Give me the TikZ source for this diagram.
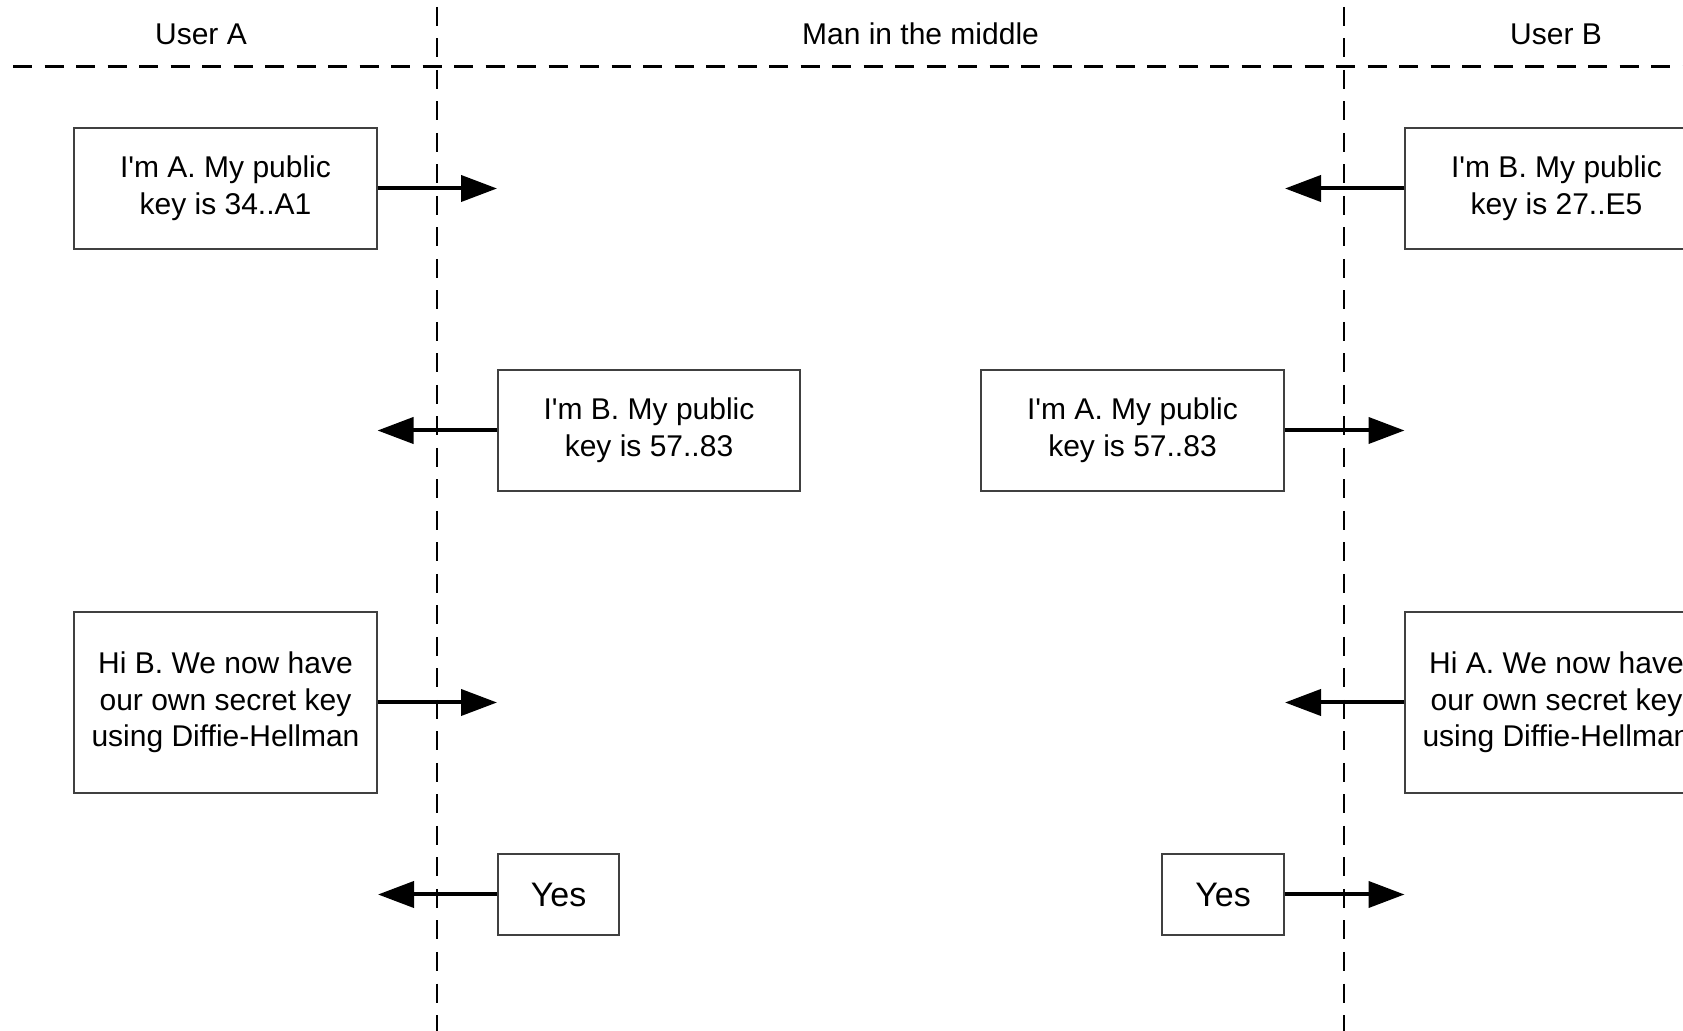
\documentclass[tikz,border=0pt]{standalone}
\usepackage{fontspec}
\setmainfont{Liberation Sans}[Ligatures=TeXOff]
\usetikzlibrary{arrows.meta}
\tikzset{
  msgbox/.style={draw=black!75, line width=0.75pt, fill=white, inner sep=0pt, align=center,
    font=\fontsize{15}{18.35}\selectfont},
  yesbox/.style={msgbox, font=\fontsize{17}{19}\selectfont},
  hdr/.style={anchor=base, inner sep=0pt, font=\fontsize{15}{18}\selectfont},
  lane/.style={line width=1.2pt, dash pattern=on 9.5pt off 6.25pt},
  msgarrow/.style={line width=2pt, -{Triangle[length=18pt,width=13pt]}}
}
\begin{document}
\begin{tikzpicture}[x=0.5pt, y=-0.5pt]
\useasboundingbox (0,0) rectangle (1683,1031);
\clip (0,0) rectangle (1683,1031);

% lanes
\coordinate (h0) at (13,66.5);
\coordinate (h1) at (1690,66.5);
\coordinate (v1t) at (437,7);
\coordinate (v1b) at (437,1040);
\coordinate (v2t) at (1344,7);
\coordinate (v2b) at (1344,1040);
\draw[lane] (h0) -- (h1);
\draw[lane] (v1t) -- (v1b);
\draw[lane] (v2t) -- (v2b);

% headers
\node[hdr] (hA) at (201,44.5) {User A};
\node[hdr] (hM) at (920.5,44.5) {Man in the middle};
\node[hdr] (hB) at (1556,44.5) {User B};

% boxes
\node[msgbox, minimum width=303pt*0.5, minimum height=121pt*0.5] (A1) at (225.5,188.5) {I'm A. My public\\key is 34..A1};
\node[msgbox, minimum width=303pt*0.5, minimum height=121pt*0.5] (B1) at (1556.5,188.5) {I'm B. My public\\key is 27..E5};
\node[msgbox, minimum width=302pt*0.5, minimum height=121pt*0.5] (M1) at (649,430.5) {I'm B. My public\\key is 57..83};
\node[msgbox, minimum width=303pt*0.5, minimum height=121pt*0.5] (M2) at (1132.5,430.5) {I'm A. My public\\key is 57..83};
\node[msgbox, minimum width=303pt*0.5, minimum height=181pt*0.5] (A2) at (225.5,702.5) {Hi B. We now have\\our own secret key\\using Diffie-Hellman};
\node[msgbox, minimum width=303pt*0.5, minimum height=181pt*0.5] (B2) at (1556.5,702.5) {Hi A. We now have\\our own secret key\\using Diffie-Hellman};
\node[yesbox, minimum width=121pt*0.5, minimum height=81pt*0.5] (Y1) at (558.5,894.5) {Yes};
\node[yesbox, minimum width=122pt*0.5, minimum height=81pt*0.5] (Y2) at (1223,894.5) {Yes};

% arrow tips
\coordinate (tA1) at (497,188.5);
\coordinate (tB1) at (1285,188.5);
\coordinate (tM1) at (377.5,430.5);
\coordinate (tM2) at (1404.5,430.5);
\coordinate (tA2) at (497,702.5);
\coordinate (tB2) at (1285,702.5);
\coordinate (tY1) at (378,894.5);
\coordinate (tY2) at (1404.5,894.5);

\draw[msgarrow] (A1.east) -- (tA1);
\draw[msgarrow] (B1.west) -- (tB1);
\draw[msgarrow] (M1.west) -- (tM1);
\draw[msgarrow] (M2.east) -- (tM2);
\draw[msgarrow] (A2.east) -- (tA2);
\draw[msgarrow] (B2.west) -- (tB2);
\draw[msgarrow] (Y1.west) -- (tY1);
\draw[msgarrow] (Y2.east) -- (tY2);
\end{tikzpicture}
\end{document}
